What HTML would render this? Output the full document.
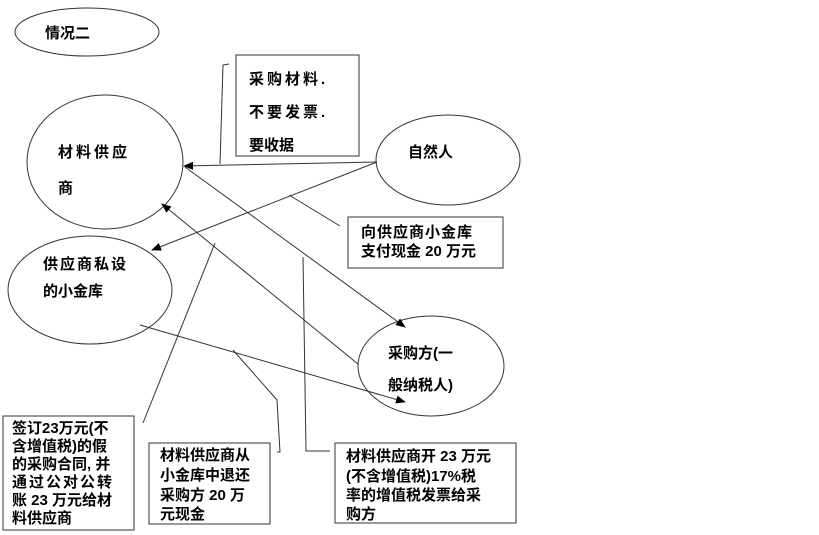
<!DOCTYPE html>
<html><head><meta charset="utf-8"><style>
html,body{margin:0;padding:0;background:#fff;}
svg{display:block;}
text{font-family:"Liberation Sans","Noto Sans CJK SC",sans-serif;font-weight:bold;font-size:15px;fill:#000;}
</style></head><body>
<svg width="819" height="535" viewBox="0 0 819 535" xmlns="http://www.w3.org/2000/svg">
<defs><marker id="a" markerWidth="10" markerHeight="8" refX="9" refY="4" orient="auto" markerUnits="userSpaceOnUse"><path d="M0,0 L10,4 L0,8 Z" fill="#000"/></marker></defs>
<g fill="none" stroke="#333" stroke-width="1">
<ellipse cx="87" cy="32" rx="72" ry="24"/>
<ellipse cx="105" cy="162" rx="78" ry="67"/>
<ellipse cx="448" cy="160" rx="72" ry="45"/>
<ellipse cx="90" cy="290" rx="82" ry="54"/>
<ellipse cx="431" cy="366" rx="73" ry="50"/>
<rect x="236" y="55" width="123" height="101"/>
<rect x="348" y="217" width="155" height="51"/>
<rect x="3" y="416" width="131" height="114"/>
<rect x="149" y="443" width="121" height="81"/>
<rect x="335" y="443" width="181" height="80"/>
<line x1="377" y1="162" x2="184" y2="166" marker-end="url(#a)"/>
<polyline points="220,164 223,65 229,64"/>
<line x1="377" y1="162" x2="152" y2="250" marker-end="url(#a)"/>
<line x1="289" y1="195" x2="340" y2="226"/>
<line x1="185" y1="167" x2="405" y2="327" marker-end="url(#a)"/>
<line x1="358" y1="364" x2="162" y2="204" marker-end="url(#a)"/>
<line x1="140" y1="325" x2="405" y2="402" marker-end="url(#a)"/>
<line x1="143" y1="423" x2="215" y2="243"/>
<polyline points="233,350 277,400 280,452 277,452"/>
<polyline points="303,257 306,451 330,451"/>
</g>
<text x="45" y="38">情况二</text>
<text x="58" y="157" letter-spacing="3">材料供应</text>
<text x="58" y="193">商</text>
<text x="408" y="157" font-size="16">自然人</text>
<text x="43" y="269" letter-spacing="2">供应商私设</text>
<text x="43" y="296">的小金库</text>
<text x="388" y="358" font-size="16">采购方(一</text>
<text x="388" y="390" font-size="16">般纳税人)</text>
<text x="249" y="84" letter-spacing="3">采购材料.</text>
<text x="249" y="117" letter-spacing="3">不要发票.</text>
<text x="249" y="150">要收据</text>
<text x="361" y="237" letter-spacing="1">向供应商小金库</text>
<text x="361" y="256">支付现金 20 万元</text>
<g font-size="14">
<text x="12" y="433" font-size="14">签订23万元(不</text>
<text x="12" y="451" font-size="14">含增值税)的假</text>
<text x="12" y="469" font-size="14">的采购合同, 并</text>
<text x="12" y="487" font-size="14" letter-spacing="2">通过公对公转</text>
<text x="12" y="505" font-size="14">账 23 万元给材</text>
<text x="12" y="523" font-size="14">料供应商</text>
</g>
<text x="160" y="460">材料供应商从</text>
<text x="160" y="480">小金库中退还</text>
<text x="160" y="500">采购方 20 万</text>
<text x="160" y="519">元现金</text>
<text x="346" y="461">材料供应商开 23 万元</text>
<text x="346" y="481">(不含增值税)17%税</text>
<text x="346" y="500">率的增值税发票给采</text>
<text x="346" y="519">购方</text>
</svg>
</body></html>
